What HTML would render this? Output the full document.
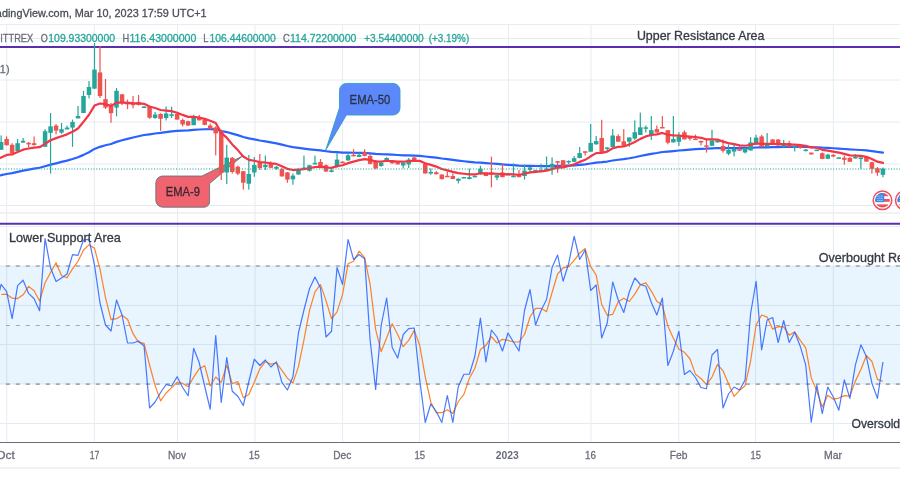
<!DOCTYPE html>
<html><head><meta charset="utf-8"><style>
html,body{margin:0;padding:0;background:#fff;width:900px;height:500px;overflow:hidden}
body{position:relative}
svg{display:block;position:absolute;left:0;top:0}
#ov{will-change:transform}
text{font-family:"Liberation Sans",sans-serif}
</style></head><body>
<svg width="900" height="500" viewBox="0 0 900 500">
<rect x="0" y="0" width="900" height="500" fill="#ffffff"/>
<line x1="0" y1="38.5" x2="900" y2="38.5" stroke="#e4ecf2" stroke-width="1"/>
<line x1="0" y1="80" x2="900" y2="80" stroke="#e4ecf2" stroke-width="1"/>
<line x1="0" y1="122" x2="900" y2="122" stroke="#e4ecf2" stroke-width="1"/>
<line x1="0" y1="164" x2="900" y2="164" stroke="#e4ecf2" stroke-width="1"/>
<line x1="0" y1="205.5" x2="900" y2="205.5" stroke="#e4ecf2" stroke-width="1"/>
<line x1="0" y1="226.5" x2="900" y2="226.5" stroke="#e4ecf2" stroke-width="1"/>
<line x1="0" y1="266" x2="900" y2="266" stroke="#e4ecf2" stroke-width="1"/>
<line x1="0" y1="305.5" x2="900" y2="305.5" stroke="#e4ecf2" stroke-width="1"/>
<line x1="0" y1="344.5" x2="900" y2="344.5" stroke="#e4ecf2" stroke-width="1"/>
<line x1="0" y1="384" x2="900" y2="384" stroke="#e4ecf2" stroke-width="1"/>
<line x1="0" y1="423.5" x2="900" y2="423.5" stroke="#e4ecf2" stroke-width="1"/>
<line x1="0" y1="24.5" x2="900" y2="24.5" stroke="#e8ecf2" stroke-width="1"/>
<line x1="0" y1="213" x2="900" y2="213" stroke="#e3e6ec" stroke-width="1.2"/>
<line x1="6.7" y1="24" x2="6.7" y2="442" stroke="#e4ecf2" stroke-width="1"/>
<line x1="94.3" y1="24" x2="94.3" y2="442" stroke="#e4ecf2" stroke-width="1"/>
<line x1="177.5" y1="24" x2="177.5" y2="442" stroke="#e4ecf2" stroke-width="1"/>
<line x1="255" y1="24" x2="255" y2="442" stroke="#e4ecf2" stroke-width="1"/>
<line x1="342.6" y1="24" x2="342.6" y2="442" stroke="#e4ecf2" stroke-width="1"/>
<line x1="419.5" y1="24" x2="419.5" y2="442" stroke="#e4ecf2" stroke-width="1"/>
<line x1="508.4" y1="24" x2="508.4" y2="442" stroke="#e4ecf2" stroke-width="1"/>
<line x1="591" y1="24" x2="591" y2="442" stroke="#e4ecf2" stroke-width="1"/>
<line x1="678.8" y1="24" x2="678.8" y2="442" stroke="#e4ecf2" stroke-width="1"/>
<line x1="755.5" y1="24" x2="755.5" y2="442" stroke="#e4ecf2" stroke-width="1"/>
<line x1="833.4" y1="24" x2="833.4" y2="442" stroke="#e4ecf2" stroke-width="1"/>
<rect x="0" y="266" width="900" height="118" fill="#2196f3" fill-opacity="0.1"/>
<line x1="0" y1="266" x2="900" y2="266" stroke="#a3a6ae" stroke-width="1.7" stroke-dasharray="4 6" stroke-dashoffset="4.2"/>
<line x1="0" y1="325.5" x2="900" y2="325.5" stroke="#a3a6ae" stroke-width="1" stroke-dasharray="4 6" stroke-dashoffset="4.2"/>
<line x1="0" y1="384.2" x2="900" y2="384.2" stroke="#a3a6ae" stroke-width="1.7" stroke-dasharray="4 6" stroke-dashoffset="4.2"/>
<line x1="0" y1="47" x2="900" y2="47" stroke="#5b2db0" stroke-width="2.1"/>
<line x1="0" y1="223.8" x2="900" y2="223.8" stroke="#5b2db0" stroke-width="2.1"/>
<path d="M346.5,83.4 H393 A7,7 0 0 1 400,90.4 V108 A7,7 0 0 1 393,115 H346.4 L325.7,150.2 L339.5,107.8 V90.4 A7,7 0 0 1 346.5,83.4 Z" fill="#5c88fb" stroke="#2f9fc0" stroke-width="0.9"/>
<path d="M162.8,176 H202 L242.1,156.3 L209.6,183.5 V201.8 A5.4,5.4 0 0 1 204.2,207.2 H162.8 A7,7 0 0 1 155.8,200.2 V183 A7,7 0 0 1 162.8,176 Z" fill="#f0646f" stroke="#4f6f7c" stroke-width="0.8"/>
<polyline points="0.00,175.40 1.14,175.18 6.63,173.98 12.13,173.14 17.62,171.93 23.11,170.69 28.61,169.63 34.10,168.63 39.59,167.72 45.08,166.26 50.57,164.67 56.06,163.31 61.55,161.94 67.04,160.57 72.53,159.03 78.02,157.31 83.51,154.88 89.00,152.19 94.49,148.92 100.00,146.82 105.51,145.26 111.02,143.97 116.53,141.86 122.03,140.30 127.54,138.86 133.05,137.52 138.56,136.21 144.07,135.02 149.58,134.31 155.08,133.51 160.59,132.90 166.10,132.11 171.61,131.39 177.12,130.90 182.64,130.62 188.15,130.39 193.67,129.87 199.18,129.48 204.70,129.27 210.21,129.22 215.72,129.36 221.24,131.03 226.75,132.05 232.27,133.59 237.78,135.13 243.29,136.97 248.81,138.39 254.32,139.41 259.84,140.50 265.35,141.43 270.87,142.43 276.38,143.36 281.89,144.63 287.41,145.97 292.92,147.11 298.44,147.95 303.95,148.69 309.47,149.31 314.98,149.81 320.49,150.42 326.01,151.22 331.52,151.94 337.04,152.21 342.55,152.59 348.07,152.67 353.58,152.77 359.09,152.83 364.61,152.92 370.12,153.32 375.64,153.89 381.15,154.21 386.66,154.33 392.18,154.65 397.69,155.01 403.21,155.29 408.72,155.43 414.24,155.61 419.75,155.82 425.26,156.48 430.78,157.06 436.29,157.71 441.81,158.52 447.32,159.19 452.83,159.94 458.35,160.65 463.86,161.26 469.37,161.86 474.89,162.38 480.40,162.60 485.92,163.10 491.43,163.51 496.94,163.94 502.46,164.43 507.97,164.78 513.48,165.19 519.00,165.63 524.51,165.80 530.03,165.83 535.54,165.98 541.05,166.11 546.57,166.18 552.08,166.06 557.59,165.87 563.11,165.91 568.62,165.69 574.14,165.36 579.65,164.86 585.16,164.34 590.68,163.47 596.19,162.56 601.70,162.15 607.22,161.54 612.73,160.49 618.25,159.73 623.76,159.16 629.27,158.28 634.79,157.23 640.30,156.03 645.81,154.88 651.33,153.88 656.84,153.01 662.36,152.00 667.87,151.60 673.38,151.08 678.90,150.49 684.41,150.03 689.93,149.56 695.44,149.13 700.96,148.82 706.47,148.69 711.99,148.34 717.50,148.01 723.02,148.09 728.53,148.14 734.05,148.14 739.56,148.22 745.08,148.18 750.59,147.93 756.11,147.49 761.62,147.44 767.14,147.32 772.65,147.15 778.17,147.06 783.68,146.95 789.20,146.91 794.71,146.85 800.23,146.86 805.74,146.94 811.26,147.20 816.77,147.27 822.28,147.70 827.80,147.94 833.31,148.24 838.83,148.57 844.34,148.99 849.86,149.46 855.37,149.73 860.89,150.00 866.40,150.43 871.92,151.12 877.43,151.94 882.95,152.57" fill="none" stroke="#2962ff" stroke-width="2.2" stroke-linejoin="round" stroke-linecap="round"/>
<rect x="0.54" y="135.40" width="1.2" height="14.40" fill="#26a69a"/>
<rect x="-1.11" y="142.00" width="4.5" height="7.80" fill="#26a69a"/>
<rect x="6.03" y="136.40" width="1.2" height="9.20" fill="#ef5350"/>
<rect x="4.38" y="139.00" width="4.5" height="6.20" fill="#ef5350"/>
<rect x="11.53" y="143.20" width="1.2" height="10.20" fill="#ef5350"/>
<rect x="9.88" y="144.80" width="4.5" height="8.40" fill="#ef5350"/>
<rect x="17.02" y="139.00" width="1.2" height="12.00" fill="#26a69a"/>
<rect x="15.37" y="143.20" width="4.5" height="7.80" fill="#26a69a"/>
<rect x="22.51" y="138.00" width="1.2" height="4.80" fill="#26a69a"/>
<rect x="20.86" y="140.80" width="4.5" height="1.80" fill="#26a69a"/>
<rect x="28.01" y="142.00" width="1.2" height="5.40" fill="#ef5350"/>
<rect x="26.36" y="142.80" width="4.5" height="1.60" fill="#ef5350"/>
<rect x="33.50" y="136.40" width="1.2" height="9.20" fill="#ef5350"/>
<rect x="31.85" y="143.20" width="4.5" height="1.80" fill="#ef5350"/>
<rect x="38.99" y="145.80" width="1.2" height="1.00" fill="#26a69a"/>
<rect x="37.34" y="146.00" width="4.5" height="1.50" fill="#26a69a"/>
<rect x="44.48" y="129.20" width="1.2" height="17.60" fill="#26a69a"/>
<rect x="42.83" y="131.20" width="4.5" height="15.60" fill="#26a69a"/>
<rect x="49.97" y="113.00" width="1.2" height="60.60" fill="#26a69a"/>
<rect x="48.32" y="126.40" width="4.5" height="6.40" fill="#26a69a"/>
<rect x="55.46" y="124.00" width="1.2" height="10.40" fill="#ef5350"/>
<rect x="53.81" y="125.60" width="4.5" height="5.00" fill="#ef5350"/>
<rect x="60.95" y="123.00" width="1.2" height="10.80" fill="#26a69a"/>
<rect x="59.30" y="129.20" width="4.5" height="3.40" fill="#26a69a"/>
<rect x="66.44" y="125.60" width="1.2" height="3.80" fill="#26a69a"/>
<rect x="64.79" y="127.60" width="4.5" height="1.80" fill="#26a69a"/>
<rect x="71.93" y="119.60" width="1.2" height="27.20" fill="#26a69a"/>
<rect x="70.28" y="122.00" width="4.5" height="5.60" fill="#26a69a"/>
<rect x="77.42" y="106.00" width="1.2" height="12.40" fill="#26a69a"/>
<rect x="75.77" y="116.00" width="4.5" height="2.40" fill="#26a69a"/>
<rect x="82.91" y="91.00" width="1.2" height="22.00" fill="#26a69a"/>
<rect x="81.26" y="96.00" width="4.5" height="17.00" fill="#26a69a"/>
<rect x="88.40" y="81.00" width="1.2" height="17.40" fill="#26a69a"/>
<rect x="86.75" y="87.00" width="4.5" height="8.00" fill="#26a69a"/>
<rect x="93.89" y="43.00" width="1.2" height="46.00" fill="#26a69a"/>
<rect x="92.24" y="69.60" width="4.5" height="19.00" fill="#26a69a"/>
<rect x="99.40" y="46.00" width="1.2" height="52.00" fill="#ef5350"/>
<rect x="97.75" y="72.40" width="4.5" height="23.60" fill="#ef5350"/>
<rect x="104.91" y="79.00" width="1.2" height="30.00" fill="#ef5350"/>
<rect x="103.26" y="99.20" width="4.5" height="8.40" fill="#ef5350"/>
<rect x="110.42" y="102.80" width="1.2" height="20.00" fill="#ef5350"/>
<rect x="108.77" y="105.20" width="4.5" height="8.00" fill="#ef5350"/>
<rect x="115.93" y="88.00" width="1.2" height="28.40" fill="#26a69a"/>
<rect x="114.28" y="90.80" width="4.5" height="16.80" fill="#26a69a"/>
<rect x="121.43" y="94.00" width="1.2" height="11.20" fill="#ef5350"/>
<rect x="119.78" y="94.30" width="4.5" height="8.50" fill="#ef5350"/>
<rect x="126.94" y="99.60" width="1.2" height="9.60" fill="#ef5350"/>
<rect x="125.29" y="102.80" width="4.5" height="1.60" fill="#ef5350"/>
<rect x="132.45" y="96.00" width="1.2" height="12.40" fill="#ef5350"/>
<rect x="130.80" y="103.30" width="4.5" height="1.90" fill="#ef5350"/>
<rect x="137.96" y="95.00" width="1.2" height="10.50" fill="#ef5350"/>
<rect x="136.31" y="102.00" width="4.5" height="2.90" fill="#ef5350"/>
<rect x="143.47" y="106.00" width="1.2" height="2.00" fill="#26a69a"/>
<rect x="141.82" y="106.50" width="4.5" height="1.50" fill="#26a69a"/>
<rect x="148.98" y="106.00" width="1.2" height="12.80" fill="#ef5350"/>
<rect x="147.33" y="106.80" width="4.5" height="10.90" fill="#ef5350"/>
<rect x="154.48" y="112.00" width="1.2" height="6.80" fill="#26a69a"/>
<rect x="152.83" y="114.50" width="4.5" height="3.50" fill="#26a69a"/>
<rect x="159.99" y="113.20" width="1.2" height="17.60" fill="#ef5350"/>
<rect x="158.34" y="114.00" width="4.5" height="4.80" fill="#ef5350"/>
<rect x="165.50" y="106.50" width="1.2" height="13.90" fill="#26a69a"/>
<rect x="163.85" y="113.50" width="4.5" height="4.50" fill="#26a69a"/>
<rect x="171.01" y="106.80" width="1.2" height="11.20" fill="#26a69a"/>
<rect x="169.36" y="114.30" width="4.5" height="1.60" fill="#26a69a"/>
<rect x="176.52" y="113.20" width="1.2" height="6.40" fill="#ef5350"/>
<rect x="174.87" y="114.00" width="4.5" height="5.60" fill="#ef5350"/>
<rect x="182.04" y="118.50" width="1.2" height="8.00" fill="#ef5350"/>
<rect x="180.39" y="120.00" width="4.5" height="4.40" fill="#ef5350"/>
<rect x="187.55" y="120.70" width="1.2" height="5.30" fill="#ef5350"/>
<rect x="185.90" y="121.20" width="4.5" height="4.30" fill="#ef5350"/>
<rect x="193.07" y="114.80" width="1.2" height="10.40" fill="#26a69a"/>
<rect x="191.42" y="118.00" width="4.5" height="7.20" fill="#26a69a"/>
<rect x="198.58" y="114.80" width="1.2" height="5.60" fill="#ef5350"/>
<rect x="196.93" y="117.20" width="4.5" height="3.20" fill="#ef5350"/>
<rect x="204.10" y="119.00" width="1.2" height="6.20" fill="#ef5350"/>
<rect x="202.45" y="119.60" width="4.5" height="5.30" fill="#ef5350"/>
<rect x="209.61" y="123.60" width="1.2" height="5.60" fill="#ef5350"/>
<rect x="207.96" y="125.50" width="4.5" height="3.20" fill="#ef5350"/>
<rect x="215.12" y="126.40" width="1.2" height="29.00" fill="#ef5350"/>
<rect x="213.47" y="127.40" width="4.5" height="6.00" fill="#ef5350"/>
<rect x="220.64" y="129.60" width="1.2" height="50.40" fill="#ef5350"/>
<rect x="218.99" y="131.20" width="4.5" height="41.60" fill="#ef5350"/>
<rect x="226.15" y="144.80" width="1.2" height="39.20" fill="#26a69a"/>
<rect x="224.50" y="157.60" width="4.5" height="14.90" fill="#26a69a"/>
<rect x="231.67" y="157.00" width="1.2" height="16.60" fill="#ef5350"/>
<rect x="230.02" y="157.80" width="4.5" height="14.20" fill="#ef5350"/>
<rect x="237.18" y="165.60" width="1.2" height="9.60" fill="#ef5350"/>
<rect x="235.53" y="166.70" width="4.5" height="6.90" fill="#ef5350"/>
<rect x="242.69" y="170.90" width="1.2" height="18.70" fill="#ef5350"/>
<rect x="241.04" y="171.20" width="4.5" height="11.50" fill="#ef5350"/>
<rect x="248.21" y="154.90" width="1.2" height="34.70" fill="#26a69a"/>
<rect x="246.56" y="174.00" width="4.5" height="9.70" fill="#26a69a"/>
<rect x="253.72" y="157.00" width="1.2" height="19.80" fill="#26a69a"/>
<rect x="252.07" y="165.00" width="4.5" height="7.50" fill="#26a69a"/>
<rect x="259.24" y="154.00" width="1.2" height="16.00" fill="#ef5350"/>
<rect x="257.59" y="162.00" width="4.5" height="6.00" fill="#ef5350"/>
<rect x="264.75" y="155.50" width="1.2" height="14.50" fill="#26a69a"/>
<rect x="263.10" y="164.80" width="4.5" height="2.40" fill="#26a69a"/>
<rect x="270.27" y="161.30" width="1.2" height="6.90" fill="#ef5350"/>
<rect x="268.62" y="163.00" width="4.5" height="4.80" fill="#ef5350"/>
<rect x="275.78" y="166.00" width="1.2" height="3.70" fill="#26a69a"/>
<rect x="274.13" y="166.80" width="4.5" height="1.90" fill="#26a69a"/>
<rect x="281.29" y="167.60" width="1.2" height="9.10" fill="#ef5350"/>
<rect x="279.64" y="169.20" width="4.5" height="7.20" fill="#ef5350"/>
<rect x="286.81" y="172.00" width="1.2" height="10.80" fill="#ef5350"/>
<rect x="285.16" y="172.40" width="4.5" height="7.20" fill="#ef5350"/>
<rect x="292.32" y="173.50" width="1.2" height="11.20" fill="#26a69a"/>
<rect x="290.67" y="175.60" width="4.5" height="3.70" fill="#26a69a"/>
<rect x="297.84" y="168.40" width="1.2" height="6.40" fill="#26a69a"/>
<rect x="296.19" y="169.20" width="4.5" height="5.30" fill="#26a69a"/>
<rect x="303.35" y="155.60" width="1.2" height="13.60" fill="#26a69a"/>
<rect x="301.70" y="167.60" width="4.5" height="1.60" fill="#26a69a"/>
<rect x="308.87" y="164.90" width="1.2" height="6.70" fill="#26a69a"/>
<rect x="307.22" y="165.20" width="4.5" height="5.60" fill="#26a69a"/>
<rect x="314.38" y="155.60" width="1.2" height="8.80" fill="#26a69a"/>
<rect x="312.73" y="162.80" width="4.5" height="1.60" fill="#26a69a"/>
<rect x="319.89" y="159.00" width="1.2" height="9.40" fill="#ef5350"/>
<rect x="318.24" y="162.00" width="4.5" height="4.00" fill="#ef5350"/>
<rect x="325.41" y="164.40" width="1.2" height="7.60" fill="#ef5350"/>
<rect x="323.76" y="165.20" width="4.5" height="6.30" fill="#ef5350"/>
<rect x="330.92" y="169.20" width="1.2" height="3.20" fill="#26a69a"/>
<rect x="329.27" y="170.30" width="4.5" height="1.60" fill="#26a69a"/>
<rect x="336.44" y="153.20" width="1.2" height="14.40" fill="#26a69a"/>
<rect x="334.79" y="159.60" width="4.5" height="6.40" fill="#26a69a"/>
<rect x="341.95" y="161.20" width="1.2" height="1.60" fill="#ef5350"/>
<rect x="340.30" y="161.70" width="4.5" height="1.50" fill="#ef5350"/>
<rect x="347.47" y="153.70" width="1.2" height="7.00" fill="#26a69a"/>
<rect x="345.82" y="155.30" width="4.5" height="5.10" fill="#26a69a"/>
<rect x="352.98" y="149.20" width="1.2" height="7.20" fill="#ef5350"/>
<rect x="351.33" y="154.80" width="4.5" height="1.50" fill="#ef5350"/>
<rect x="358.49" y="152.40" width="1.2" height="4.80" fill="#26a69a"/>
<rect x="356.84" y="154.80" width="4.5" height="2.10" fill="#26a69a"/>
<rect x="364.01" y="149.20" width="1.2" height="7.20" fill="#ef5350"/>
<rect x="362.36" y="152.40" width="4.5" height="3.50" fill="#ef5350"/>
<rect x="369.52" y="153.70" width="1.2" height="10.70" fill="#ef5350"/>
<rect x="367.87" y="155.90" width="4.5" height="8.00" fill="#ef5350"/>
<rect x="375.04" y="160.00" width="1.2" height="9.20" fill="#ef5350"/>
<rect x="373.39" y="160.70" width="4.5" height="7.70" fill="#ef5350"/>
<rect x="380.55" y="162.00" width="1.2" height="4.80" fill="#26a69a"/>
<rect x="378.90" y="162.80" width="4.5" height="3.20" fill="#26a69a"/>
<rect x="386.06" y="157.20" width="1.2" height="4.00" fill="#26a69a"/>
<rect x="384.41" y="158.00" width="4.5" height="2.40" fill="#26a69a"/>
<rect x="391.58" y="161.20" width="1.2" height="2.40" fill="#ef5350"/>
<rect x="389.93" y="161.70" width="4.5" height="1.60" fill="#ef5350"/>
<rect x="397.09" y="162.00" width="1.2" height="2.40" fill="#ef5350"/>
<rect x="395.44" y="162.30" width="4.5" height="2.10" fill="#ef5350"/>
<rect x="402.61" y="161.20" width="1.2" height="7.20" fill="#26a69a"/>
<rect x="400.96" y="162.80" width="4.5" height="2.70" fill="#26a69a"/>
<rect x="408.12" y="158.00" width="1.2" height="10.00" fill="#26a69a"/>
<rect x="406.47" y="159.60" width="4.5" height="4.80" fill="#26a69a"/>
<rect x="413.64" y="156.90" width="1.2" height="4.30" fill="#ef5350"/>
<rect x="411.99" y="157.50" width="4.5" height="3.20" fill="#ef5350"/>
<rect x="419.15" y="160.40" width="1.2" height="1.60" fill="#ef5350"/>
<rect x="417.50" y="160.40" width="4.5" height="1.50" fill="#ef5350"/>
<rect x="424.66" y="163.60" width="1.2" height="9.90" fill="#ef5350"/>
<rect x="423.01" y="163.90" width="4.5" height="9.60" fill="#ef5350"/>
<rect x="430.18" y="168.40" width="1.2" height="6.40" fill="#26a69a"/>
<rect x="428.53" y="171.90" width="4.5" height="1.60" fill="#26a69a"/>
<rect x="435.69" y="171.10" width="1.2" height="3.40" fill="#ef5350"/>
<rect x="434.04" y="172.30" width="4.5" height="1.90" fill="#ef5350"/>
<rect x="441.21" y="174.20" width="1.2" height="5.40" fill="#ef5350"/>
<rect x="439.56" y="174.60" width="4.5" height="4.50" fill="#ef5350"/>
<rect x="446.72" y="171.50" width="1.2" height="4.90" fill="#ef5350"/>
<rect x="445.07" y="175.80" width="4.5" height="1.50" fill="#ef5350"/>
<rect x="452.23" y="173.40" width="1.2" height="5.60" fill="#ef5350"/>
<rect x="450.58" y="176.00" width="4.5" height="3.00" fill="#ef5350"/>
<rect x="457.75" y="178.40" width="1.2" height="5.10" fill="#26a69a"/>
<rect x="456.10" y="178.70" width="4.5" height="2.10" fill="#26a69a"/>
<rect x="463.26" y="176.80" width="1.2" height="1.00" fill="#26a69a"/>
<rect x="461.61" y="177.00" width="4.5" height="1.50" fill="#26a69a"/>
<rect x="468.77" y="168.60" width="1.2" height="10.80" fill="#26a69a"/>
<rect x="467.12" y="177.20" width="4.5" height="1.80" fill="#26a69a"/>
<rect x="474.29" y="175.40" width="1.2" height="2.00" fill="#26a69a"/>
<rect x="472.64" y="175.80" width="4.5" height="1.50" fill="#26a69a"/>
<rect x="479.80" y="165.80" width="1.2" height="9.00" fill="#26a69a"/>
<rect x="478.15" y="168.80" width="4.5" height="4.20" fill="#26a69a"/>
<rect x="485.32" y="172.20" width="1.2" height="4.00" fill="#ef5350"/>
<rect x="483.67" y="172.40" width="4.5" height="3.60" fill="#ef5350"/>
<rect x="490.83" y="156.60" width="1.2" height="30.80" fill="#ef5350"/>
<rect x="489.18" y="172.40" width="4.5" height="1.80" fill="#ef5350"/>
<rect x="496.34" y="174.60" width="1.2" height="5.60" fill="#26a69a"/>
<rect x="494.69" y="175.20" width="4.5" height="2.40" fill="#26a69a"/>
<rect x="501.86" y="163.40" width="1.2" height="13.80" fill="#ef5350"/>
<rect x="500.21" y="172.40" width="4.5" height="4.80" fill="#ef5350"/>
<rect x="507.37" y="173.80" width="1.2" height="1.00" fill="#26a69a"/>
<rect x="505.72" y="174.00" width="4.5" height="1.50" fill="#26a69a"/>
<rect x="512.88" y="163.40" width="1.2" height="13.80" fill="#26a69a"/>
<rect x="511.23" y="175.80" width="4.5" height="1.50" fill="#26a69a"/>
<rect x="518.40" y="170.00" width="1.2" height="7.20" fill="#ef5350"/>
<rect x="516.75" y="174.80" width="4.5" height="2.40" fill="#ef5350"/>
<rect x="523.91" y="164.60" width="1.2" height="15.00" fill="#26a69a"/>
<rect x="522.26" y="170.60" width="4.5" height="5.40" fill="#26a69a"/>
<rect x="529.43" y="167.00" width="1.2" height="4.80" fill="#26a69a"/>
<rect x="527.78" y="167.40" width="4.5" height="2.40" fill="#26a69a"/>
<rect x="534.94" y="169.80" width="1.2" height="1.40" fill="#26a69a"/>
<rect x="533.29" y="170.20" width="4.5" height="1.50" fill="#26a69a"/>
<rect x="540.45" y="163.80" width="1.2" height="7.20" fill="#26a69a"/>
<rect x="538.80" y="170.10" width="4.5" height="1.50" fill="#26a69a"/>
<rect x="545.97" y="156.50" width="1.2" height="13.30" fill="#26a69a"/>
<rect x="544.32" y="168.60" width="4.5" height="1.50" fill="#26a69a"/>
<rect x="551.48" y="157.40" width="1.2" height="17.40" fill="#26a69a"/>
<rect x="549.83" y="163.90" width="4.5" height="3.50" fill="#26a69a"/>
<rect x="556.99" y="161.10" width="1.2" height="11.70" fill="#ef5350"/>
<rect x="555.34" y="161.20" width="4.5" height="1.50" fill="#ef5350"/>
<rect x="562.51" y="160.20" width="1.2" height="7.80" fill="#ef5350"/>
<rect x="560.86" y="160.20" width="4.5" height="7.40" fill="#ef5350"/>
<rect x="568.02" y="160.40" width="1.2" height="3.50" fill="#26a69a"/>
<rect x="566.37" y="160.90" width="4.5" height="1.50" fill="#26a69a"/>
<rect x="573.54" y="156.10" width="1.2" height="6.00" fill="#26a69a"/>
<rect x="571.89" y="158.20" width="4.5" height="3.60" fill="#26a69a"/>
<rect x="579.05" y="147.10" width="1.2" height="11.20" fill="#26a69a"/>
<rect x="577.40" y="153.10" width="4.5" height="4.90" fill="#26a69a"/>
<rect x="584.56" y="151.30" width="1.2" height="4.20" fill="#ef5350"/>
<rect x="582.91" y="151.30" width="4.5" height="1.50" fill="#ef5350"/>
<rect x="590.08" y="124.00" width="1.2" height="27.70" fill="#26a69a"/>
<rect x="588.43" y="142.90" width="4.5" height="8.80" fill="#26a69a"/>
<rect x="595.59" y="135.90" width="1.2" height="8.80" fill="#26a69a"/>
<rect x="593.94" y="141.10" width="4.5" height="3.20" fill="#26a69a"/>
<rect x="601.10" y="119.80" width="1.2" height="32.90" fill="#ef5350"/>
<rect x="599.45" y="138.00" width="4.5" height="14.70" fill="#ef5350"/>
<rect x="606.62" y="147.20" width="1.2" height="3.80" fill="#26a69a"/>
<rect x="604.97" y="147.40" width="4.5" height="1.50" fill="#26a69a"/>
<rect x="612.13" y="129.00" width="1.2" height="18.00" fill="#26a69a"/>
<rect x="610.48" y="135.50" width="4.5" height="11.50" fill="#26a69a"/>
<rect x="617.65" y="134.30" width="1.2" height="7.40" fill="#ef5350"/>
<rect x="616.00" y="136.10" width="4.5" height="5.60" fill="#ef5350"/>
<rect x="623.16" y="129.10" width="1.2" height="17.40" fill="#ef5350"/>
<rect x="621.51" y="141.30" width="4.5" height="4.60" fill="#ef5350"/>
<rect x="628.67" y="137.50" width="1.2" height="9.40" fill="#26a69a"/>
<rect x="627.02" y="137.50" width="4.5" height="4.20" fill="#26a69a"/>
<rect x="634.19" y="120.30" width="1.2" height="19.60" fill="#26a69a"/>
<rect x="632.54" y="132.20" width="4.5" height="6.30" fill="#26a69a"/>
<rect x="639.70" y="112.60" width="1.2" height="22.40" fill="#26a69a"/>
<rect x="638.05" y="127.30" width="4.5" height="7.70" fill="#26a69a"/>
<rect x="645.21" y="125.50" width="1.2" height="7.00" fill="#26a69a"/>
<rect x="643.56" y="127.30" width="4.5" height="1.50" fill="#26a69a"/>
<rect x="650.73" y="116.10" width="1.2" height="23.80" fill="#26a69a"/>
<rect x="649.08" y="130.10" width="4.5" height="4.90" fill="#26a69a"/>
<rect x="656.24" y="125.50" width="1.2" height="7.00" fill="#ef5350"/>
<rect x="654.59" y="129.10" width="4.5" height="3.40" fill="#ef5350"/>
<rect x="661.76" y="116.10" width="1.2" height="11.70" fill="#ef5350"/>
<rect x="660.11" y="127.00" width="4.5" height="1.50" fill="#ef5350"/>
<rect x="667.27" y="130.10" width="1.2" height="14.20" fill="#ef5350"/>
<rect x="665.62" y="130.20" width="4.5" height="12.50" fill="#ef5350"/>
<rect x="672.78" y="116.00" width="1.2" height="26.40" fill="#26a69a"/>
<rect x="671.13" y="139.00" width="4.5" height="3.40" fill="#26a69a"/>
<rect x="678.30" y="132.20" width="1.2" height="13.80" fill="#26a69a"/>
<rect x="676.65" y="136.60" width="4.5" height="5.20" fill="#26a69a"/>
<rect x="683.81" y="130.40" width="1.2" height="9.00" fill="#ef5350"/>
<rect x="682.16" y="132.20" width="4.5" height="7.20" fill="#ef5350"/>
<rect x="689.33" y="136.20" width="1.2" height="4.40" fill="#ef5350"/>
<rect x="687.68" y="136.60" width="4.5" height="2.20" fill="#ef5350"/>
<rect x="694.84" y="134.60" width="1.2" height="5.20" fill="#ef5350"/>
<rect x="693.19" y="138.60" width="4.5" height="1.50" fill="#ef5350"/>
<rect x="700.36" y="140.60" width="1.2" height="4.80" fill="#ef5350"/>
<rect x="698.71" y="141.00" width="4.5" height="1.50" fill="#ef5350"/>
<rect x="705.87" y="138.80" width="1.2" height="13.80" fill="#ef5350"/>
<rect x="704.22" y="145.40" width="4.5" height="1.50" fill="#ef5350"/>
<rect x="711.39" y="129.80" width="1.2" height="16.20" fill="#26a69a"/>
<rect x="709.74" y="140.60" width="4.5" height="5.20" fill="#26a69a"/>
<rect x="716.90" y="140.00" width="1.2" height="2.60" fill="#26a69a"/>
<rect x="715.25" y="140.50" width="4.5" height="1.90" fill="#26a69a"/>
<rect x="722.42" y="139.50" width="1.2" height="13.00" fill="#ef5350"/>
<rect x="720.77" y="146.00" width="4.5" height="4.80" fill="#ef5350"/>
<rect x="727.93" y="144.40" width="1.2" height="10.80" fill="#26a69a"/>
<rect x="726.28" y="150.00" width="4.5" height="3.70" fill="#26a69a"/>
<rect x="733.45" y="143.20" width="1.2" height="13.20" fill="#26a69a"/>
<rect x="731.80" y="148.90" width="4.5" height="2.70" fill="#26a69a"/>
<rect x="738.96" y="146.00" width="1.2" height="4.80" fill="#ef5350"/>
<rect x="737.31" y="149.20" width="4.5" height="1.60" fill="#ef5350"/>
<rect x="744.48" y="147.40" width="1.2" height="6.00" fill="#26a69a"/>
<rect x="742.83" y="148.00" width="4.5" height="4.40" fill="#26a69a"/>
<rect x="749.99" y="137.20" width="1.2" height="13.60" fill="#26a69a"/>
<rect x="748.34" y="142.40" width="4.5" height="8.00" fill="#26a69a"/>
<rect x="755.51" y="134.80" width="1.2" height="10.20" fill="#26a69a"/>
<rect x="753.86" y="137.60" width="4.5" height="5.60" fill="#26a69a"/>
<rect x="761.02" y="134.80" width="1.2" height="12.40" fill="#ef5350"/>
<rect x="759.37" y="136.40" width="4.5" height="10.40" fill="#ef5350"/>
<rect x="766.54" y="133.00" width="1.2" height="14.20" fill="#26a69a"/>
<rect x="764.89" y="145.00" width="4.5" height="1.80" fill="#26a69a"/>
<rect x="772.05" y="139.00" width="1.2" height="4.90" fill="#ef5350"/>
<rect x="770.40" y="139.50" width="4.5" height="4.40" fill="#ef5350"/>
<rect x="777.57" y="139.10" width="1.2" height="6.70" fill="#ef5350"/>
<rect x="775.92" y="139.50" width="4.5" height="6.00" fill="#ef5350"/>
<rect x="783.08" y="140.00" width="1.2" height="7.20" fill="#26a69a"/>
<rect x="781.43" y="144.80" width="4.5" height="2.00" fill="#26a69a"/>
<rect x="788.60" y="140.80" width="1.2" height="6.00" fill="#ef5350"/>
<rect x="786.95" y="143.00" width="4.5" height="3.80" fill="#ef5350"/>
<rect x="794.11" y="145.40" width="1.2" height="6.00" fill="#26a69a"/>
<rect x="792.46" y="146.00" width="4.5" height="1.60" fill="#26a69a"/>
<rect x="799.63" y="144.80" width="1.2" height="4.00" fill="#ef5350"/>
<rect x="797.98" y="145.20" width="4.5" height="2.60" fill="#ef5350"/>
<rect x="805.14" y="149.00" width="1.2" height="2.40" fill="#26a69a"/>
<rect x="803.49" y="149.60" width="4.5" height="1.50" fill="#26a69a"/>
<rect x="810.66" y="152.60" width="1.2" height="1.80" fill="#ef5350"/>
<rect x="809.01" y="152.60" width="4.5" height="1.80" fill="#ef5350"/>
<rect x="816.17" y="149.60" width="1.2" height="0.80" fill="#26a69a"/>
<rect x="814.52" y="149.60" width="4.5" height="1.50" fill="#26a69a"/>
<rect x="821.68" y="152.40" width="1.2" height="6.80" fill="#ef5350"/>
<rect x="820.03" y="153.20" width="4.5" height="5.70" fill="#ef5350"/>
<rect x="827.20" y="153.80" width="1.2" height="5.40" fill="#26a69a"/>
<rect x="825.55" y="154.60" width="4.5" height="4.20" fill="#26a69a"/>
<rect x="832.71" y="154.00" width="1.2" height="3.20" fill="#ef5350"/>
<rect x="831.06" y="155.00" width="4.5" height="1.50" fill="#ef5350"/>
<rect x="838.23" y="157.40" width="1.2" height="0.80" fill="#26a69a"/>
<rect x="836.58" y="157.40" width="4.5" height="1.50" fill="#26a69a"/>
<rect x="843.74" y="155.60" width="1.2" height="9.00" fill="#ef5350"/>
<rect x="842.09" y="157.80" width="4.5" height="2.00" fill="#ef5350"/>
<rect x="849.26" y="157.40" width="1.2" height="4.40" fill="#ef5350"/>
<rect x="847.61" y="157.80" width="4.5" height="4.00" fill="#ef5350"/>
<rect x="854.77" y="154.20" width="1.2" height="4.40" fill="#26a69a"/>
<rect x="853.12" y="157.00" width="4.5" height="1.50" fill="#26a69a"/>
<rect x="860.29" y="157.40" width="1.2" height="11.40" fill="#26a69a"/>
<rect x="858.64" y="157.40" width="4.5" height="1.60" fill="#26a69a"/>
<rect x="865.80" y="156.80" width="1.2" height="4.80" fill="#ef5350"/>
<rect x="864.15" y="157.00" width="4.5" height="4.60" fill="#ef5350"/>
<rect x="871.32" y="161.80" width="1.2" height="11.80" fill="#ef5350"/>
<rect x="869.67" y="162.20" width="4.5" height="6.60" fill="#ef5350"/>
<rect x="876.83" y="167.00" width="1.2" height="8.80" fill="#ef5350"/>
<rect x="875.18" y="168.20" width="4.5" height="4.50" fill="#ef5350"/>
<rect x="882.35" y="167.60" width="1.2" height="9.60" fill="#26a69a"/>
<rect x="880.70" y="168.60" width="4.5" height="6.20" fill="#26a69a"/>
<polyline points="0.00,158.00 1.14,157.57 6.63,154.96 12.13,154.47 17.62,152.07 23.11,149.68 28.61,148.48 34.10,147.65 39.59,147.18 45.08,143.84 50.57,140.21 56.06,138.15 61.55,136.22 67.04,134.36 72.53,131.75 78.02,128.46 83.51,121.82 89.00,114.72 94.49,105.56 100.00,103.50 105.51,104.18 111.02,105.85 116.53,102.70 122.03,102.58 127.54,102.80 133.05,103.14 138.56,103.35 144.07,103.84 149.58,106.47 155.08,107.94 160.59,109.97 166.10,110.54 171.61,111.15 177.12,112.70 182.64,114.90 188.15,116.88 193.67,116.96 199.18,117.51 204.70,118.85 210.21,120.68 215.72,123.08 221.24,132.89 226.75,137.69 232.27,144.41 237.78,150.11 243.29,156.49 248.81,159.85 254.32,160.74 259.84,162.05 265.35,162.46 270.87,163.39 276.38,163.93 281.89,166.29 287.41,168.81 292.92,170.03 298.44,169.72 303.95,169.16 309.47,168.23 314.98,167.00 320.49,166.66 326.01,167.49 331.52,167.91 337.04,166.11 342.55,165.27 348.07,163.13 353.58,161.57 359.09,160.07 364.61,159.10 370.12,159.92 375.64,161.48 381.15,161.60 386.66,160.74 392.18,161.11 397.69,161.63 403.21,161.72 408.72,161.16 414.24,160.93 419.75,160.94 425.26,163.31 430.78,164.89 436.29,166.61 441.81,168.97 447.32,170.32 452.83,171.91 458.35,173.13 463.86,173.76 469.37,174.31 474.89,174.47 480.40,173.20 485.92,173.62 491.43,173.59 496.94,173.77 502.46,174.32 507.97,174.12 513.48,174.31 519.00,174.75 524.51,173.78 530.03,172.36 535.54,171.79 541.05,171.31 546.57,170.63 552.08,169.14 557.59,167.54 563.11,167.41 568.62,165.97 574.14,164.27 579.65,161.90 585.16,159.84 590.68,156.31 596.19,153.13 601.70,152.90 607.22,151.66 612.73,148.29 618.25,146.83 623.76,146.51 629.27,144.56 634.79,141.95 640.30,138.88 645.81,136.43 651.33,135.02 656.84,134.38 662.36,132.92 667.87,134.74 673.38,135.45 678.90,135.54 684.41,136.17 689.93,136.56 695.44,136.99 700.96,137.81 706.47,139.35 711.99,139.46 717.50,139.53 723.02,141.64 728.53,143.17 734.05,144.18 739.56,145.36 745.08,145.75 750.59,144.94 756.11,143.33 761.62,143.89 767.14,143.97 772.65,143.81 778.17,144.01 783.68,144.03 789.20,144.44 794.71,144.61 800.23,145.11 805.74,145.87 811.26,147.44 816.77,147.73 822.28,149.82 827.80,150.64 833.31,151.63 838.83,152.64 844.34,153.94 849.86,155.37 855.37,155.55 860.89,155.78 866.40,156.81 871.92,159.07 877.43,161.65 882.95,162.90" fill="none" stroke="#f23645" stroke-width="2.2" stroke-linejoin="round" stroke-linecap="round"/>
<line x1="0" y1="169" x2="900" y2="169" stroke="#26a69a" stroke-width="1.6" stroke-dasharray="1 1.75" opacity="0.75"/>
<polyline points="1.14,294.50 6.63,294.20 12.13,298.20 17.62,298.60 23.11,294.80 28.61,286.40 34.10,290.80 39.59,301.00 45.08,282.73 50.57,272.47 56.06,262.67 61.55,275.80 67.04,277.80 72.53,268.87 78.02,261.33 83.51,250.00 89.00,244.93 94.49,248.13 100.00,269.13 105.51,297.67 111.02,319.67 116.53,318.67 122.03,315.33 127.54,319.33 133.05,333.67 138.56,342.33 144.07,343.33 149.58,365.00 155.08,385.33 160.59,400.83 166.10,393.00 171.61,387.67 177.12,382.42 182.64,383.42 188.15,386.67 193.67,377.17 199.18,368.83 204.70,365.67 210.21,386.00 215.72,377.00 221.24,382.42 226.75,365.17 232.27,383.75 237.78,381.67 243.29,397.67 248.81,394.50 254.32,382.17 259.84,368.83 265.35,361.58 270.87,364.17 276.38,362.97 281.89,370.43 287.41,378.10 292.92,383.07 298.44,366.60 303.95,339.93 309.47,310.58 314.98,291.92 320.49,284.58 326.01,300.67 331.52,318.75 337.04,311.92 342.55,294.42 348.07,263.83 353.58,261.17 359.09,251.17 364.61,257.58 370.12,284.42 375.64,329.42 381.15,351.67 386.66,337.67 392.18,323.67 397.69,334.50 403.21,346.67 408.72,340.40 414.24,330.40 419.75,345.57 425.26,376.83 430.78,402.17 436.29,412.67 441.81,412.67 447.32,409.83 452.83,413.50 458.35,401.50 463.86,394.42 469.37,378.33 474.89,368.25 480.40,349.50 485.92,345.42 491.43,336.67 496.94,343.00 502.46,339.33 507.97,340.33 513.48,342.00 519.00,342.00 524.51,334.50 530.03,317.00 535.54,308.33 541.05,308.33 546.57,311.67 552.08,292.50 557.59,274.00 563.11,267.92 568.62,266.67 574.14,260.42 579.65,253.17 585.16,248.58 590.68,266.67 596.19,275.17 601.70,304.50 607.22,315.33 612.73,314.33 618.25,301.67 623.76,298.17 629.27,301.50 634.79,294.17 640.30,284.83 645.81,282.92 651.33,291.08 656.84,301.25 662.36,305.17 667.87,326.17 673.38,338.25 678.90,349.33 684.41,352.33 689.93,358.75 695.44,374.17 700.96,378.50 706.47,384.58 711.99,377.08 717.50,364.42 723.02,370.83 728.53,383.83 734.05,396.33 739.56,390.33 745.08,385.67 750.59,361.25 756.11,325.00 761.62,315.00 767.14,317.08 772.65,329.17 778.17,326.67 783.68,326.83 789.20,335.17 794.71,331.77 800.23,340.33 805.74,347.90 811.26,377.87 816.77,390.83 822.28,406.97 827.80,395.23 833.31,399.20 838.83,398.07 844.34,395.67 849.86,396.13 855.37,381.13 860.89,369.47 866.40,355.53 871.92,361.53 877.43,379.40 882.95,381.20" fill="none" stroke="#ff6d00" stroke-width="1.2" stroke-linejoin="round" opacity="0.85"/>
<polyline points="-4.37,306.60 1.14,284.40 6.63,291.60 12.13,318.60 17.62,285.60 23.11,280.20 28.61,293.40 34.10,298.80 39.59,310.80 45.08,238.60 50.57,268.00 56.06,281.40 61.55,278.00 67.04,274.00 72.53,254.60 78.02,255.40 83.51,240.00 89.00,239.40 94.49,265.00 100.00,303.00 105.51,325.00 111.02,331.00 116.53,300.00 122.03,315.00 127.54,343.00 133.05,343.00 138.56,341.00 144.07,346.00 149.58,408.00 155.08,402.00 160.59,392.50 166.10,384.50 171.61,386.00 177.12,376.75 182.64,387.50 188.15,395.75 193.67,348.25 199.18,362.50 204.70,386.25 210.21,409.25 215.72,335.50 221.24,402.50 226.75,357.50 232.27,391.25 237.78,396.25 243.29,405.50 248.81,381.75 254.32,359.25 259.84,365.50 265.35,360.00 270.87,367.00 276.38,361.90 281.89,382.40 287.41,390.00 292.92,376.80 298.44,333.00 303.95,310.00 309.47,288.75 314.98,277.00 320.49,288.00 326.01,337.00 331.52,331.25 337.04,267.50 342.55,284.50 348.07,239.50 353.58,259.50 359.09,254.50 364.61,258.75 370.12,340.00 375.64,389.50 381.15,325.50 386.66,298.00 392.18,347.50 397.69,358.00 403.21,334.50 408.72,328.70 414.24,328.00 419.75,380.00 425.26,422.50 430.78,404.00 436.29,411.50 441.81,422.50 447.32,395.50 452.83,422.50 458.35,386.50 463.86,374.25 469.37,374.25 474.89,356.25 480.40,318.00 485.92,362.00 491.43,330.00 496.94,337.00 502.46,351.00 507.97,333.00 513.48,342.00 519.00,351.00 524.51,310.50 530.03,289.50 535.54,325.00 541.05,310.50 546.57,299.50 552.08,267.50 557.59,255.00 563.11,281.25 568.62,263.75 574.14,236.25 579.65,259.50 585.16,250.00 590.68,290.50 596.19,285.00 601.70,338.00 607.22,323.00 612.73,282.00 618.25,300.00 623.76,312.50 629.27,292.00 634.79,278.00 640.30,284.50 645.81,286.25 651.33,302.50 656.84,315.00 662.36,298.00 667.87,365.50 673.38,351.25 678.90,331.25 684.41,374.50 689.93,370.50 695.44,377.50 700.96,387.50 706.47,388.75 711.99,355.00 717.50,349.50 723.02,408.00 728.53,394.00 734.05,387.00 739.56,390.00 745.08,380.00 750.59,313.75 756.11,281.25 761.62,350.00 767.14,320.00 772.65,317.50 778.17,342.50 783.68,320.50 789.20,342.50 794.71,332.30 800.23,346.20 805.74,365.20 811.26,422.20 816.77,385.10 822.28,413.60 827.80,387.00 833.31,397.00 838.83,410.20 844.34,379.80 849.86,398.40 855.37,365.20 860.89,344.80 866.40,356.60 871.92,383.20 877.43,398.40 882.95,362.00" fill="none" stroke="#2962ff" stroke-width="1.2" stroke-linejoin="round" opacity="0.85"/>
<circle cx="882.5" cy="200.3" r="9.3" fill="#fff" stroke="#f04b5e" stroke-width="1.5"/><clipPath id="fc882"><circle cx="882.5" cy="200.3" r="7.3"/></clipPath><g clip-path="url(#fc882)"><rect x="874.5" y="192.3" width="16" height="16" fill="#fff"/><rect x="874.5" y="192.8" width="16" height="3.4" fill="#ef4d5a"/><rect x="874.5" y="199.0" width="16" height="2.8" fill="#ef4d5a"/><rect x="874.5" y="204.4" width="16" height="4" fill="#ef4d5a"/><rect x="874.5" y="192.3" width="9.8" height="9.9" fill="#3f8ae6"/><rect x="877.3" y="195.70000000000002" width="1.2" height="0.8" fill="#cfe2fb"/><rect x="879.3" y="195.70000000000002" width="1.2" height="0.8" fill="#cfe2fb"/><rect x="881.3" y="195.70000000000002" width="1.2" height="0.8" fill="#cfe2fb"/><rect x="877.3" y="197.9" width="1.2" height="0.8" fill="#cfe2fb"/><rect x="879.3" y="197.9" width="1.2" height="0.8" fill="#cfe2fb"/><rect x="881.3" y="197.9" width="1.2" height="0.8" fill="#cfe2fb"/><rect x="877.3" y="200.0" width="1.2" height="0.8" fill="#cfe2fb"/><rect x="879.3" y="200.0" width="1.2" height="0.8" fill="#cfe2fb"/><rect x="881.3" y="200.0" width="1.2" height="0.8" fill="#cfe2fb"/></g>
<circle cx="904.8" cy="200.3" r="9.3" fill="#fff" stroke="#f04b5e" stroke-width="1.5"/><clipPath id="fc904"><circle cx="904.8" cy="200.3" r="7.3"/></clipPath><g clip-path="url(#fc904)"><rect x="896.8" y="192.3" width="16" height="16" fill="#fff"/><rect x="896.8" y="192.8" width="16" height="3.4" fill="#ef4d5a"/><rect x="896.8" y="199.0" width="16" height="2.8" fill="#ef4d5a"/><rect x="896.8" y="204.4" width="16" height="4" fill="#ef4d5a"/><rect x="896.8" y="192.3" width="9.8" height="9.9" fill="#3f8ae6"/><rect x="899.5999999999999" y="195.70000000000002" width="1.2" height="0.8" fill="#cfe2fb"/><rect x="901.5999999999999" y="195.70000000000002" width="1.2" height="0.8" fill="#cfe2fb"/><rect x="903.5999999999999" y="195.70000000000002" width="1.2" height="0.8" fill="#cfe2fb"/><rect x="899.5999999999999" y="197.9" width="1.2" height="0.8" fill="#cfe2fb"/><rect x="901.5999999999999" y="197.9" width="1.2" height="0.8" fill="#cfe2fb"/><rect x="903.5999999999999" y="197.9" width="1.2" height="0.8" fill="#cfe2fb"/><rect x="899.5999999999999" y="200.0" width="1.2" height="0.8" fill="#cfe2fb"/><rect x="901.5999999999999" y="200.0" width="1.2" height="0.8" fill="#cfe2fb"/><rect x="903.5999999999999" y="200.0" width="1.2" height="0.8" fill="#cfe2fb"/></g>
<line x1="0" y1="442.5" x2="900" y2="442.5" stroke="#6a6d78" stroke-width="1.2"/>
<line x1="0" y1="468" x2="900" y2="468" stroke="#e3e6ee" stroke-width="1.2"/>
</svg>
<svg id="ov" width="900" height="500" viewBox="0 0 900 500">
<text x="349.6" y="103.6" font-size="12.5" fill="#2a3246" stroke="#2a3246" stroke-width="0.3" textLength="40.8" lengthAdjust="spacingAndGlyphs">EMA-50</text>
<text x="165.8" y="195.8" font-size="12.3" fill="#3a2633" stroke="#3a2633" stroke-width="0.3" textLength="34.2" lengthAdjust="spacingAndGlyphs">EMA-9</text>
<text x="-13.986008" y="17.2" font-size="11" fill="#4a4e59" stroke="#4a4e59" stroke-width="0.3" text-anchor="start" font-weight="normal" textLength="220.586008" lengthAdjust="spacingAndGlyphs">TradingView.com, Mar 10, 2023 17:59 UTC+1</text>
<text x="0.2" y="41.7" font-size="10.4" fill="#6a6d78" stroke="#6a6d78" stroke-width="0.3" text-anchor="start" font-weight="normal" textLength="33.1" lengthAdjust="spacingAndGlyphs">ITTREX</text>
<text x="40.8" y="41.7" font-size="10.4" fill="#6a6d78" stroke="#6a6d78" stroke-width="0.3" text-anchor="start" font-weight="normal" textLength="7.0" lengthAdjust="spacingAndGlyphs">O</text>
<text x="48.3" y="41.7" font-size="10.4" fill="#26a69a" stroke="#26a69a" stroke-width="0.3" text-anchor="start" font-weight="normal" textLength="66.7" lengthAdjust="spacingAndGlyphs">109.93300000</text>
<text x="122.5" y="41.7" font-size="10.4" fill="#6a6d78" stroke="#6a6d78" stroke-width="0.3" text-anchor="start" font-weight="normal" textLength="6.7" lengthAdjust="spacingAndGlyphs">H</text>
<text x="129.5" y="41.7" font-size="10.4" fill="#26a69a" stroke="#26a69a" stroke-width="0.3" text-anchor="start" font-weight="normal" textLength="66.8" lengthAdjust="spacingAndGlyphs">116.43000000</text>
<text x="203.3" y="41.7" font-size="10.4" fill="#6a6d78" stroke="#6a6d78" stroke-width="0.3" text-anchor="start" font-weight="normal" textLength="5.2" lengthAdjust="spacingAndGlyphs">L</text>
<text x="209.6" y="41.7" font-size="10.4" fill="#26a69a" stroke="#26a69a" stroke-width="0.3" text-anchor="start" font-weight="normal" textLength="66.2" lengthAdjust="spacingAndGlyphs">106.44600000</text>
<text x="283" y="41.7" font-size="10.4" fill="#6a6d78" stroke="#6a6d78" stroke-width="0.3" text-anchor="start" font-weight="normal" textLength="6.8" lengthAdjust="spacingAndGlyphs">C</text>
<text x="290" y="41.7" font-size="10.4" fill="#26a69a" stroke="#26a69a" stroke-width="0.3" text-anchor="start" font-weight="normal" textLength="66.3" lengthAdjust="spacingAndGlyphs">114.72200000</text>
<text x="364.2" y="41.7" font-size="10.4" fill="#26a69a" stroke="#26a69a" stroke-width="0.3" text-anchor="start" font-weight="normal" textLength="59.5" lengthAdjust="spacingAndGlyphs">+3.54400000</text>
<text x="428.7" y="41.7" font-size="10.4" fill="#26a69a" stroke="#26a69a" stroke-width="0.3" text-anchor="start" font-weight="normal" textLength="40.5" lengthAdjust="spacingAndGlyphs">(+3.19%)</text>
<text x="636.9" y="39.8" font-size="12.4" fill="#363a45" stroke="#363a45" stroke-width="0.3" text-anchor="start" font-weight="normal" textLength="127.5" lengthAdjust="spacingAndGlyphs">Upper Resistance Area</text>
<text x="-0.2" y="72.8" font-size="10.5" fill="#6a6d78" stroke="#6a6d78" stroke-width="0.3" text-anchor="start" font-weight="normal" textLength="9.7" lengthAdjust="spacingAndGlyphs">1)</text>
<text x="9.0" y="241.7" font-size="12.1" fill="#363a45" stroke="#363a45" stroke-width="0.3" text-anchor="start" font-weight="normal" textLength="111.7" lengthAdjust="spacingAndGlyphs">Lower Support Area</text>
<text x="818.8" y="262.3" font-size="12.3" fill="#363a45" stroke="#363a45" stroke-width="0.3" text-anchor="start" font-weight="normal" textLength="109.0" lengthAdjust="spacingAndGlyphs">Overbought Region</text>
<text x="851.5" y="427.5" font-size="12.3" fill="#363a45" stroke="#363a45" stroke-width="0.3" text-anchor="start" font-weight="normal" textLength="48.6" lengthAdjust="spacingAndGlyphs">Oversold</text>
<text x="-3.75" y="458.8" font-size="11.2" fill="#6a6d78" stroke="#6a6d78" stroke-width="0.3" text-anchor="start" font-weight="normal" textLength="18.5" lengthAdjust="spacingAndGlyphs">Oct</text>
<text x="89.65" y="458.8" font-size="11.2" fill="#6a6d78" stroke="#6a6d78" stroke-width="0.3" text-anchor="start" font-weight="normal" textLength="9.7" lengthAdjust="spacingAndGlyphs">17</text>
<text x="168.0" y="458.8" font-size="11.2" fill="#6a6d78" stroke="#6a6d78" stroke-width="0.3" text-anchor="start" font-weight="normal" textLength="18" lengthAdjust="spacingAndGlyphs">Nov</text>
<text x="248.7" y="458.8" font-size="11.2" fill="#6a6d78" stroke="#6a6d78" stroke-width="0.3" text-anchor="start" font-weight="normal" textLength="11" lengthAdjust="spacingAndGlyphs">15</text>
<text x="333.3" y="458.8" font-size="11.2" fill="#6a6d78" stroke="#6a6d78" stroke-width="0.3" text-anchor="start" font-weight="normal" textLength="18" lengthAdjust="spacingAndGlyphs">Dec</text>
<text x="414.4" y="458.8" font-size="11.2" fill="#6a6d78" stroke="#6a6d78" stroke-width="0.3" text-anchor="start" font-weight="normal" textLength="10.6" lengthAdjust="spacingAndGlyphs">15</text>
<text x="495.7" y="458.8" font-size="11.2" fill="#6a6d78" text-anchor="start" font-weight="bold" textLength="23" lengthAdjust="spacingAndGlyphs">2023</text>
<text x="585.0" y="458.8" font-size="11.2" fill="#6a6d78" stroke="#6a6d78" stroke-width="0.3" text-anchor="start" font-weight="normal" textLength="11" lengthAdjust="spacingAndGlyphs">16</text>
<text x="669.65" y="458.8" font-size="11.2" fill="#6a6d78" stroke="#6a6d78" stroke-width="0.3" text-anchor="start" font-weight="normal" textLength="17.7" lengthAdjust="spacingAndGlyphs">Feb</text>
<text x="750.5999999999999" y="458.8" font-size="11.2" fill="#6a6d78" stroke="#6a6d78" stroke-width="0.3" text-anchor="start" font-weight="normal" textLength="10.4" lengthAdjust="spacingAndGlyphs">15</text>
<text x="824.0" y="458.8" font-size="11.2" fill="#6a6d78" stroke="#6a6d78" stroke-width="0.3" text-anchor="start" font-weight="normal" textLength="18" lengthAdjust="spacingAndGlyphs">Mar</text>
</svg>
</body></html>
